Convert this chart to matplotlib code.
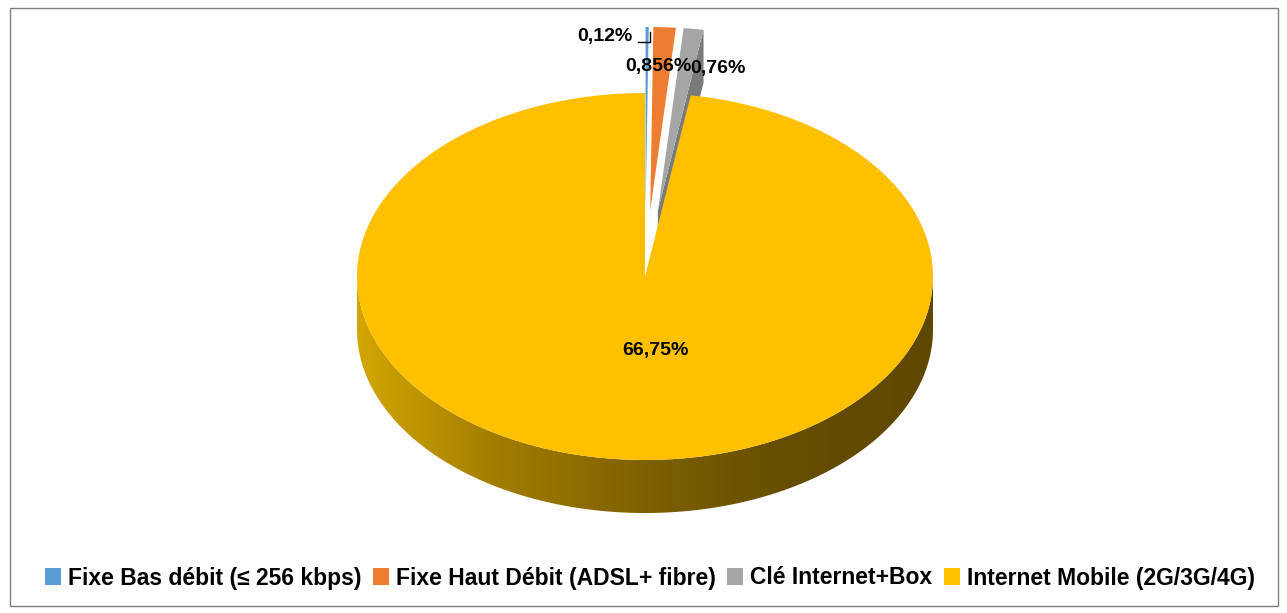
import numpy as np
import matplotlib.pyplot as plt
from matplotlib.patches import Polygon, Rectangle
from matplotlib.colors import LinearSegmentedColormap

categories = ['Fixe Bas débit (≤ 256 kbps)', 'Fixe Haut Débit (ADSL+ fibre)',
              'Clé Internet+Box', 'Internet Mobile (2G/3G/4G)']
values = [0.12, 0.856, 0.76, 66.75]
labels = ['0,12%', '0,856%', '0,76%', '66,75%']
colors = ['#5B9BD5', '#ED7D31', '#A5A5A5', '#FFC000']
explode = [0.36, 0.36, 0.36, 0.0]

W, H = 1287, 613
cx, cy, rx, ry = 645, 276.5, 288, 183.5
depth = 53 / ry

plt.rcParams['font.family'] = ['Liberation Sans', 'DejaVu Sans']
plt.rcParams['font.weight'] = 'bold'

fig = plt.figure(figsize=(W / 100, H / 100), dpi=100)
ax = fig.add_axes([0, 0, 1, 1])

# side of the big slice (gradient band under the front edge)
t = np.linspace(np.pi, 2 * np.pi, 200)
side = np.concatenate([np.c_[np.cos(t), np.sin(t)],
                       np.c_[np.cos(t[::-1]), np.sin(t[::-1]) - depth]])
poly = Polygon(side, closed=True, facecolor='none', edgecolor='none')
ax.add_patch(poly)
cmap = LinearSegmentedColormap.from_list(
    'side', ['#D2A600', '#A07C00', '#7E6100', '#654D00', '#5E4800'])
grad = np.linspace(0, 1, 256).reshape(1, -1)
im = ax.imshow(grad, cmap=cmap, extent=[-1, 1, -1 - depth, 0], aspect='auto', zorder=1)
im.set_clip_path(poly)

# exploded small slices: radial side face of the grey one
total = sum(values)
start = 90
ang = start
for v, e, c in zip(values, explode, colors):
    a2 = ang - 360 * v / total
    if e > 0 and c == '#A5A5A5':
        mid = np.radians((ang + a2) / 2)
        ox, oy = e * np.cos(mid), e * np.sin(mid)
        r2 = np.radians(a2)
        face = [(ox, oy), (ox + np.cos(r2), oy + np.sin(r2)),
                (ox + np.cos(r2), oy + np.sin(r2) - depth), (ox, oy - depth)]
        ax.add_patch(Polygon(face, closed=True, facecolor='#7A7A7A',
                             edgecolor='none', zorder=1.5))
    ang = a2

wedges, _ = ax.pie(values, colors=colors, explode=explode, startangle=start,
                   counterclock=False, radius=1, center=(0, 0),
                   wedgeprops=dict(linewidth=0, zorder=2))
for w in wedges:
    w.set_zorder(2)

ax.set_aspect('auto')
ax.set_xlim(-cx / rx, (W - cx) / rx)
ax.set_ylim(-(H - cy) / ry, cy / ry)
ax.axis('off')

# data labels
def px(x, y):
    return x / W, 1 - y / H

lab_pos = [(605, 37), (658, 66), (718, 69), (655, 351)]
for (x, y), s in zip(lab_pos, labels):
    fig.text(*px(x, y), s, ha='center', va='center', fontsize=14,
             fontweight='bold', color='black', zorder=5)
fig.add_artist(plt.Line2D([638 / W, 650 / W, 650 / W],
                          [1 - 42 / H, 1 - 42 / H, 1 - 32 / H],
                          color='black', lw=1))

leg = fig.legend(wedges, categories, loc='center', bbox_to_anchor=px(650, 578),
                 ncol=4, frameon=False, handlelength=0.7,
                 handleheight=0.7, handletextpad=0.3, columnspacing=0.5,
                 prop=dict(weight='bold', size=16.5))

fig.add_artist(Rectangle((10 / W, 1 - 606 / H), 1268 / W, 598 / H,
                         transform=fig.transFigure, fill=False,
                         edgecolor='#7F7F7F', lw=1))

fig.savefig('out.png', dpi=100)
